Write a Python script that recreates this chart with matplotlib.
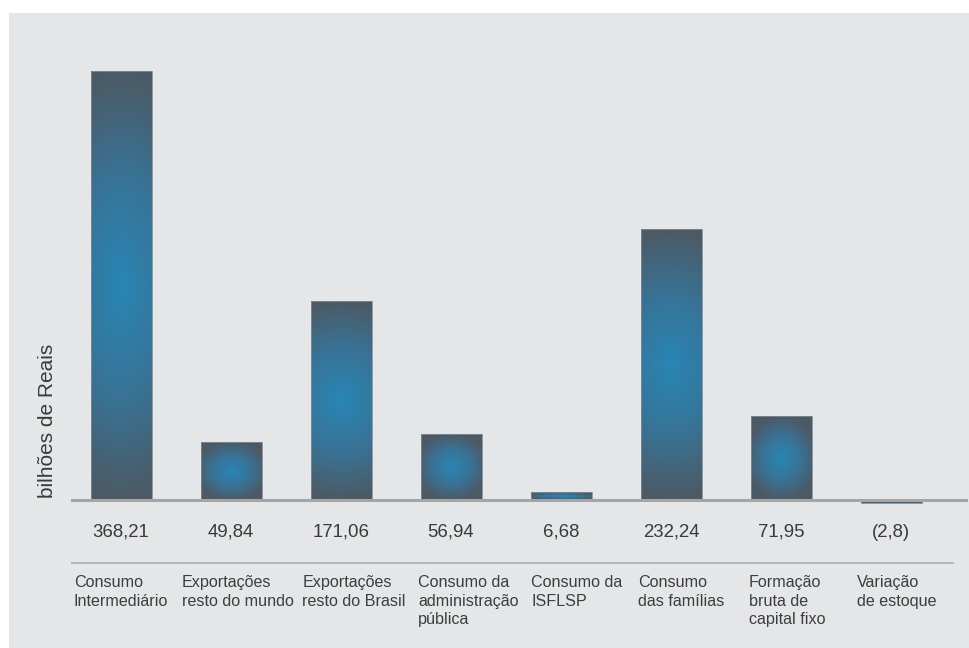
import numpy as np
import matplotlib
matplotlib.use("Agg")
import matplotlib.pyplot as plt
from matplotlib.colors import LinearSegmentedColormap
from matplotlib.patches import Rectangle
from matplotlib.lines import Line2D

plt.rcParams['font.family'] = ['Liberation Sans', 'DejaVu Sans']

# Data
categories = ["Consumo\nIntermediário", "Exportações\nresto do mundo", "Exportações\nresto do Brasil",
              "Consumo da\nadministração\npública", "Consumo da\nISFLSP", "Consumo\ndas famílias",
              "Formação\nbruta de\ncapital fixo", "Variação\nde estoque"]
values = [368.21, 49.84, 171.06, 56.94, 6.68, 232.24, 71.95, -2.8]
value_labels = ["368,21", "49,84", "171,06", "56,94", "6,68", "232,24", "71,95", "(2,8)"]

# layout: left edge of each category label (offset from bar centre, in bar steps)
label_offsets = [-0.43, -0.45, -0.35, -0.30, -0.27, -0.30, -0.29, -0.31]

W, H = 969, 648
fig = plt.figure(figsize=(W / 100, H / 100), dpi=100)
fig.patch.set_facecolor("white")

# light gray panel behind the chart
fig.add_artist(Rectangle((9 / W, 0), 1 - 9 / W, 1 - 13 / H, transform=fig.transFigure,
                         facecolor="#e4e6e8", edgecolor="none", zorder=-10))

ax = fig.add_axes([66 / W, (648 - 520) / H, 900 / W, 480 / H])
ax.patch.set_alpha(0)
for s in ax.spines.values():
    s.set_visible(False)
ax.set_xticks([])
ax.set_yticks([])

x = np.arange(len(values))
bar_w = 61 / 110
bars = ax.bar(x, values, width=bar_w, color="none", edgecolor="#7f8c96", linewidth=0.6, zorder=3)

# centre-to-edge gradient inside each bar
cmap = LinearSegmentedColormap.from_list("bargrad", ["#2886b4", "#387498", "#4c5a65"])
yy, xx = np.mgrid[-1:1:300j, -1:1:80j]
for b, v in zip(bars, values):
    hpx = abs(v) * 1.165
    side = 0.12 if hpx > 120 else 0.7
    t = np.clip(np.sqrt(yy ** 2 + side * xx ** 2), 0, 1)
    x0 = b.get_x()
    y0, y1 = min(0, v), max(0, v)
    im = ax.imshow(t, cmap=cmap, vmin=0, vmax=1, extent=[x0, x0 + bar_w, y0, y1],
                   aspect="auto", interpolation="bilinear", zorder=2)
    im.set_clip_path(b)

ax.set_xlim(-0.5, -0.5 + 900 / 110)
ax.set_ylim(-20 / 1.165, 460 / 1.165)

# baseline and separator line
ax.add_line(Line2D([-0.445, 7.68], [0, 0], color="#a3a5a7", linewidth=2.2, zorder=4, clip_on=False))
ax.add_line(Line2D([-0.445, 7.564], [-54.1, -54.1], color="#b4b6b8", linewidth=1.4, clip_on=False))

for i, (lab, vl) in enumerate(zip(categories, value_labels)):
    ax.text(x[i], -27.5, vl, ha="center", va="center", fontsize=13.4, color="#3a3a3a", clip_on=False)
    ax.text(x[i] + label_offsets[i], -64.5, lab, ha="left", va="top", fontsize=11.6,
            color="#3d3d3d", linespacing=1.3, clip_on=False)

fig.text(48 / W, (648 - 498) / H, "bilhões de Reais", rotation=90, ha="center", va="bottom",
         fontsize=15, color="#3a3a3a")

fig.savefig("out.png", dpi=100)
